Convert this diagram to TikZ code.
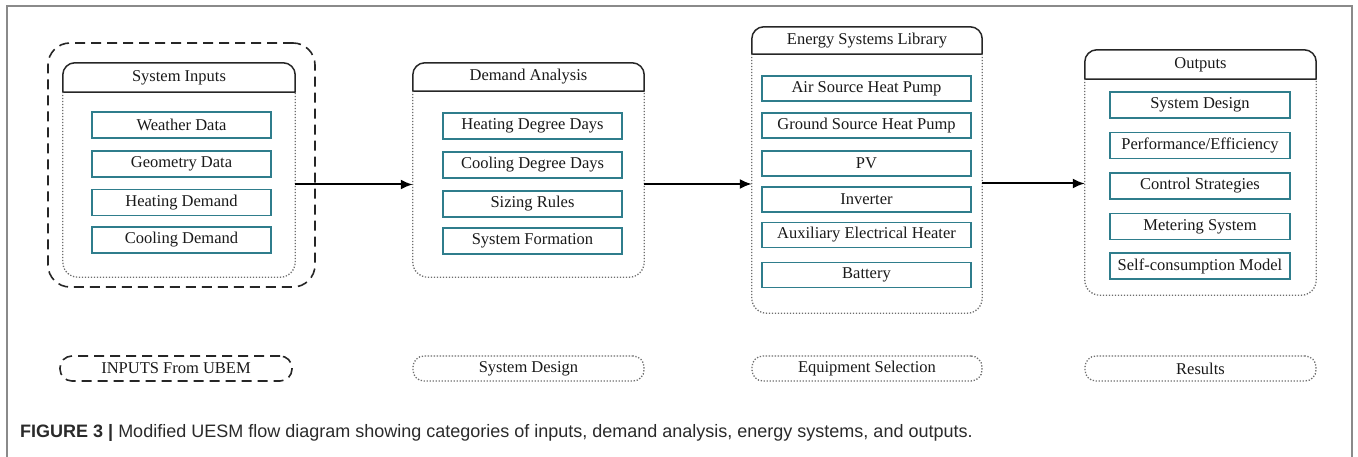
\documentclass[tikz,border=0pt]{standalone}
\usepackage{fontspec}
\setmainfont{Liberation Serif}
\newfontfamily\capfont{Liberation Sans}
\usetikzlibrary{arrows.meta}
\definecolor{tealbox}{HTML}{2F7D8C}
\definecolor{framegray}{HTML}{8A8A8A}
\definecolor{dotgray}{HTML}{6E6E6E}
\definecolor{captxt}{HTML}{2A2A2A}
\begin{document}
\begin{tikzpicture}[x=1pt,y=1pt,
  itembox/.style={draw=tealbox, line width=1.8pt, fill=white, minimum height=26pt, inner sep=0pt, font=\fontsize{16.5}{18}\selectfont, text=black!90},
  headarea/.style={inner sep=0pt, font=\fontsize{16.5}{18}\selectfont, text=black!90},
  bodyarea/.style={inner sep=0pt, draw=none},
  hdrline/.style={draw=black!85, line width=1.5pt, line join=round},
  bodyline/.style={draw=dotgray, line width=1.3pt, dash pattern=on 1.3pt off 1.7pt},
  legdot/.style={draw=dotgray, line width=1.3pt, dash pattern=on 1.3pt off 1.7pt, rounded corners=11pt, minimum height=25pt, inner sep=0pt, font=\fontsize{16.5}{18}\selectfont, text=black!90},
  legdash/.style={draw=black!85, line width=1.6pt, dash pattern=on 10pt off 6pt, rounded corners=12pt, minimum height=25pt, inner sep=0pt, font=\fontsize{16.5}{18}\selectfont, text=black!90},
  arr/.style={draw=black, line width=2pt, -{Latex[length=12pt,width=10pt]}}
]
\useasboundingbox (0,0) rectangle (1358,-457);
% outer frame
\draw[framegray, line width=1.6pt] (7,-460) -- (7,-6) -- (1352,-6) -- (1352,-460);

% ---------- System Inputs ----------
\node[draw=black!85, line width=1.6pt, dash pattern=on 10pt off 6pt, rounded corners=22pt, minimum width=267pt, minimum height=244pt, inner sep=0pt] (inO) at (181.5,-165) {};
\node[headarea, minimum width=232pt, minimum height=29pt] (inH) at (179,-77.5) {System Inputs};
\node[bodyarea, minimum width=232pt, minimum height=185pt] (inB) at (179,-184.5) {};
\draw[hdrline] (inH.south west) -- ([yshift=-12pt]inH.north west) arc[start angle=180,end angle=90,radius=12] -- ([xshift=-12pt]inH.north east) arc[start angle=90,end angle=0,radius=12] -- (inH.south east) -- cycle;
\draw[bodyline] (inB.north west) -- ([yshift=15pt]inB.south west) arc[start angle=180,end angle=270,radius=15] -- ([xshift=-15pt]inB.south east) arc[start angle=270,end angle=360,radius=15] -- (inB.north east);
\node[itembox, minimum width=179pt] (in1) at (181.5,-125) {Weather Data};
\node[itembox, minimum width=179pt] (in2) at (181.5,-164) {Geometry Data};
\node[itembox, minimum width=179pt] (in3) at (181.5,-202.5) {Heating Demand};
\node[itembox, minimum width=179pt] (in4) at (181.5,-240) {Cooling Demand};

% ---------- Demand Analysis ----------
\node[headarea, minimum width=231pt, minimum height=28pt] (deH) at (528.5,-77) {Demand Analysis};
\node[bodyarea, minimum width=231pt, minimum height=186pt] (deB) at (528.5,-184) {};
\draw[hdrline] (deH.south west) -- ([yshift=-12pt]deH.north west) arc[start angle=180,end angle=90,radius=12] -- ([xshift=-12pt]deH.north east) arc[start angle=90,end angle=0,radius=12] -- (deH.south east) -- cycle;
\draw[bodyline] (deB.north west) -- ([yshift=15pt]deB.south west) arc[start angle=180,end angle=270,radius=15] -- ([xshift=-15pt]deB.south east) arc[start angle=270,end angle=360,radius=15] -- (deB.north east);
\node[itembox, minimum width=179pt] (de1) at (532.5,-126) {Heating Degree Days};
\node[itembox, minimum width=179pt] (de2) at (532.5,-165) {Cooling Degree Days};
\node[itembox, minimum width=179pt] (de3) at (532.5,-204) {Sizing Rules};
\node[itembox, minimum width=179pt] (de4) at (532.5,-241) {System Formation};

% ---------- Energy Systems Library ----------
\node[headarea, minimum width=230pt, minimum height=27pt] (enH) at (867,-40.5) {Energy Systems Library};
\node[bodyarea, minimum width=230pt, minimum height=259pt] (enB) at (867,-183.5) {};
\draw[hdrline] (enH.south west) -- ([yshift=-12pt]enH.north west) arc[start angle=180,end angle=90,radius=12] -- ([xshift=-12pt]enH.north east) arc[start angle=90,end angle=0,radius=12] -- (enH.south east) -- cycle;
\draw[bodyline] (enB.north west) -- ([yshift=15pt]enB.south west) arc[start angle=180,end angle=270,radius=15] -- ([xshift=-15pt]enB.south east) arc[start angle=270,end angle=360,radius=15] -- (enB.north east);
\node[itembox, minimum width=209pt, minimum height=25pt] (en1) at (866.5,-88.5) {Air Source Heat Pump};
\node[itembox, minimum width=209pt, minimum height=25pt] (en2) at (866.5,-125.5) {Ground Source Heat Pump};
\node[itembox, minimum width=209pt, minimum height=25pt] (en3) at (866.5,-163.5) {PV};
\node[itembox, minimum width=209pt, minimum height=25pt] (en4) at (866.5,-199.5) {Inverter};
\node[itembox, minimum width=209pt, minimum height=25pt] (en5) at (866.5,-235) {Auxiliary Electrical Heater};
\node[itembox, minimum width=209pt, minimum height=25pt] (en6) at (866.5,-275) {Battery};

% ---------- Outputs ----------
\node[headarea, minimum width=231pt, minimum height=29pt] (ouH) at (1200.5,-64.5) {Outputs};
\node[bodyarea, minimum width=231pt, minimum height=216pt] (ouB) at (1200.5,-187) {};
\draw[hdrline] (ouH.south west) -- ([yshift=-12pt]ouH.north west) arc[start angle=180,end angle=90,radius=12] -- ([xshift=-12pt]ouH.north east) arc[start angle=90,end angle=0,radius=12] -- (ouH.south east) -- cycle;
\draw[bodyline] (ouB.north west) -- ([yshift=15pt]ouB.south west) arc[start angle=180,end angle=270,radius=15] -- ([xshift=-15pt]ouB.south east) arc[start angle=270,end angle=360,radius=15] -- (ouB.north east);
\node[itembox, minimum width=180pt] (ou1) at (1200,-105) {System Design};
\node[itembox, minimum width=180pt] (ou2) at (1200,-145.5) {Performance/Efficiency};
\node[itembox, minimum width=180pt] (ou3) at (1200,-186) {Control Strategies};
\node[itembox, minimum width=180pt] (ou4) at (1200,-226.5) {Metering System};
\node[itembox, minimum width=180pt] (ou5) at (1200,-266) {Self-consumption Model};

% ---------- arrows ----------
\draw[arr] (inB.east) -- (inB.east -| deB.west);
\draw[arr] (deB.east) -- (deB.east -| enB.west);
\draw[arr] (enB.east) -- (enB.east -| ouB.west);

% ---------- legend ----------
\node[legdash, minimum width=232pt] (lg1) at (176,-368.5) {INPUTS From UBEM};
\node[legdot, minimum width=231pt] (lg2) at (528.5,-368.5) {System Design};
\node[legdot, minimum width=230pt] (lg3) at (867,-368.5) {Equipment Selection};
\node[legdot, minimum width=231pt] (lg4) at (1200.5,-368.5) {Results};

% ---------- caption ----------
\node[anchor=west, inner sep=0pt, text=captxt, font=\capfont\fontsize{18}{20}\selectfont] (cap) at (20,-433) {\textbf{FIGURE 3 |} Modified UESM flow diagram showing categories of inputs, demand analysis, energy systems, and outputs.};
\end{tikzpicture}
\end{document}
